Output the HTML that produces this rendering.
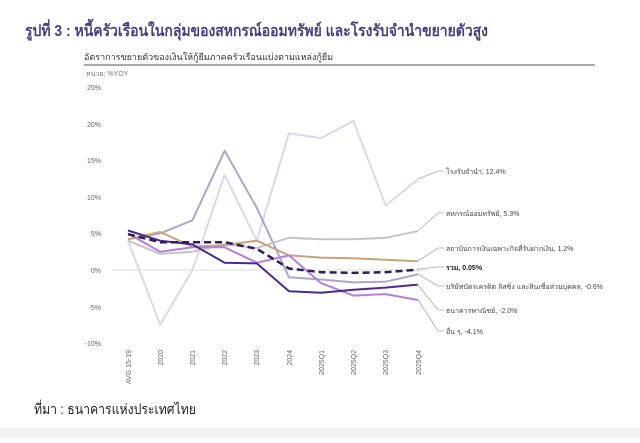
<!DOCTYPE html>
<html><head><meta charset="utf-8"><style>
body{margin:0;width:640px;height:438px;background:#fff;overflow:hidden;font-family:"Liberation Sans","Noto Sans CJK SC",sans-serif;}
</style></head><body>
<svg width="640" height="438" xmlns="http://www.w3.org/2000/svg" font-family="Liberation Sans, Noto Sans CJK SC, sans-serif">
<rect x="0" y="428" width="640" height="10" fill="#f3f3f3"/>
<text x="25" y="36" font-size="16" font-weight="bold" fill="#4a3d80" textLength="463" lengthAdjust="spacingAndGlyphs">รูปที่ 3 : หนี้ครัวเรือนในกลุ่มของสหกรณ์ออมทรัพย์ และโรงรับจำนำขยายตัวสูง</text>
<text x="84" y="60" font-size="9" fill="#333">อัตราการขยายตัวของเงินให้กู้ยืมภาคครัวเรือนแบ่งตามแหล่งกู้ยืม</text>
<line x1="84" y1="65" x2="595" y2="65" stroke="#555" stroke-width="1"/>
<text x="86" y="76" font-size="7" fill="#777">หน่วย: %YOY</text>
<g font-size="7" fill="#666" text-anchor="end">
<text x="101" y="90">25%</text><text x="101" y="127">20%</text><text x="101" y="163">15%</text><text x="101" y="200">10%</text><text x="101" y="236">5%</text><text x="101" y="273">0%</text><text x="101" y="310">-5%</text><text x="101" y="346">-10%</text>
</g>
<line x1="112" y1="270" x2="430" y2="270" stroke="#ddd" stroke-width="1"/>
<g font-size="7" fill="#666" text-anchor="end">
<text transform="translate(131,350) rotate(-90)">AVG 15-19</text>
<text transform="translate(163,350) rotate(-90)">2020</text>
<text transform="translate(195,350) rotate(-90)">2021</text>
<text transform="translate(227,350) rotate(-90)">2022</text>
<text transform="translate(259,350) rotate(-90)">2023</text>
<text transform="translate(292,350) rotate(-90)">2024</text>
<text transform="translate(324,350) rotate(-90)">2025Q1</text>
<text transform="translate(356,350) rotate(-90)">2025Q2</text>
<text transform="translate(388,350) rotate(-90)">2025Q3</text>
<text transform="translate(421,350) rotate(-90)">2025Q4</text>
</g>
<g fill="none" stroke-width="2" stroke-linejoin="round">
<polyline stroke="#dcd8ec" points="128,240.7 160.2,324.9 192.4,270 224.6,174.9 256.8,240.7 289,133.2 321.2,138.3 353.4,120.8 385.6,205.6 417.8,179.3"/>
<polyline stroke="#aba6d0" points="128,239.3 160.2,233.4 192.4,220.3 224.6,150.8 256.8,207.8 289,277.3 321.2,279.5 353.4,282.4 385.6,281.7 417.8,274.4"/>
<polyline stroke="#c4c4c4" points="128,240.7 160.2,253.9 192.4,251.7 224.6,244.4 256.8,248.1 289,237.8 321.2,239.3 353.4,239.3 385.6,237.8 417.8,231.2"/>
<polyline stroke="#c9a27a" points="128,239.3 160.2,232 192.4,246.6 224.6,245.1 256.8,240.7 289,255.4 321.2,257.6 353.4,258.3 385.6,259.8 417.8,261.2"/>
<polyline stroke="#b57fdb" points="128,233.4 160.2,251.7 192.4,247.3 224.6,247.3 256.8,262.7 289,255.4 321.2,283.2 353.4,295.6 385.6,294.1 417.8,300"/>
<polyline stroke="#4b2a8a" points="128,230.5 160.2,240.7 192.4,244.4 224.6,262.7 256.8,263.4 289,291.2 321.2,292.7 353.4,289.7 385.6,287.6 417.8,284.6"/>
<polyline stroke="#2b1f5c" stroke-width="2.5" stroke-dasharray="7,4" points="128,234.2 160.2,242.2 192.4,242.2 224.6,242.2 256.8,248.8 289,268.5 321.2,272.2 353.4,272.9 385.6,272.2 417.8,269.6"/>
</g>
<g fill="none" stroke="#aaa" stroke-width="0.8">
<polyline points="418,179 438,171 444,171"/>
<polyline points="418,231 438,213 444,213"/>
<polyline points="418,261 438,248 444,248"/>
<polyline points="418,269 438,267 444,267"/>
<polyline points="418,274 438,286 444,286"/>
<polyline points="418,285 438,310 444,310"/>
<polyline points="418,300 438,331 444,331"/>
</g>
<g font-size="7" fill="#444">
<text x="446" y="174">โรงรับจำนำ, 12.4%</text>
<text x="446" y="216">สหกรณ์ออมทรัพย์, 5.3%</text>
<text x="446" y="251">สถาบันการเงินเฉพาะกิจที่รับฝากเงิน, 1.2%</text>
<text x="446" y="270" font-weight="bold" fill="#222">รวม, 0.05%</text>
<text x="446" y="289">บริษัทบัตรเครดิต ลิสซิ่ง และสินเชื่อส่วนบุคคล, -0.6%</text>
<text x="446" y="313">ธนาคารพาณิชย์, -2.0%</text>
<text x="446" y="334">อื่น ๆ, -4.1%</text>
</g>
<text x="34" y="414" font-size="14" fill="#222" textLength="162" lengthAdjust="spacingAndGlyphs">ที่มา : ธนาคารแห่งประเทศไทย</text>
</svg>
</body></html>
